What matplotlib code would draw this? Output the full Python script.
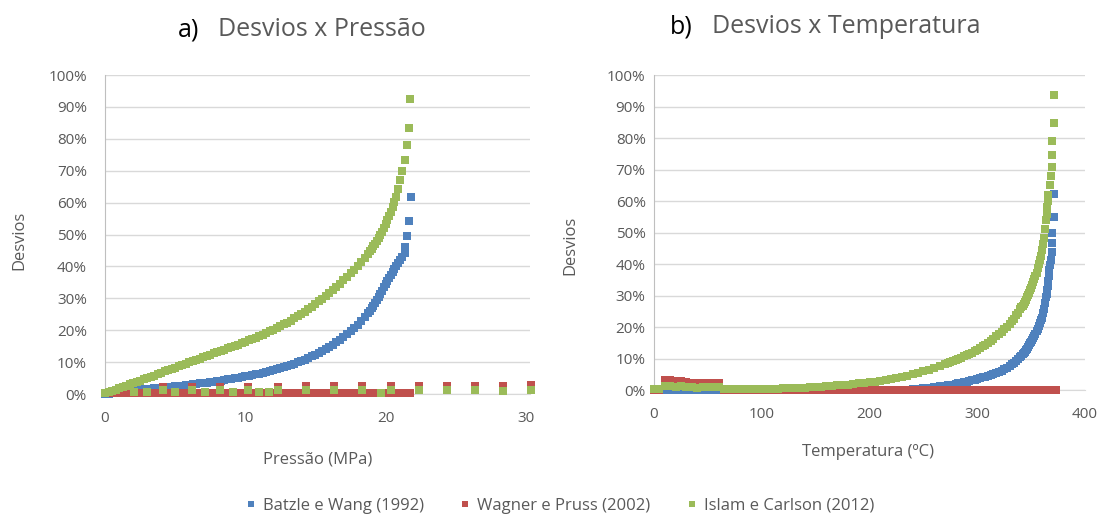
import matplotlib
matplotlib.use("Agg")
import matplotlib.pyplot as plt
from matplotlib.ticker import PercentFormatter, MultipleLocator
from matplotlib.lines import Line2D

plt.rcParams["font.family"] = ["Open Sans", "DejaVu Sans"]

AZUL = "#4F81BD"
VERMELHO = "#C0504D"
VERDE = "#9BBB59"
CINZA = "#595959"
GRADE = "#D9D9D9"

# ---------------- a) desvios x pressão (MPa, %) ----------------
p_base = [0.0, 0.25, 0.5, 0.75, 1.0, 1.25, 1.5, 1.75, 2.0, 2.25, 2.5, 2.75,
          3.0, 3.25, 3.5, 3.75, 4.0, 4.25, 4.5, 4.75, 5.0, 5.25, 5.5, 5.75,
          6.0, 6.25, 6.5, 6.75, 7.0, 7.25, 7.5, 7.75, 8.0, 8.25, 8.5, 8.75,
          9.0, 9.25, 9.5, 9.75, 10.0, 10.25, 10.5, 10.75, 11.0, 11.25, 11.5, 11.75,
          12.0, 12.25, 12.5, 12.75, 13.0, 13.25, 13.5, 13.75, 14.0, 14.25, 14.5, 14.75,
          15.0, 15.25, 15.5, 15.75, 16.0, 16.25, 16.5, 16.75, 17.0, 17.25, 17.5, 17.75,
          18.0, 18.25, 18.5, 18.75]
p_fino = [18.875, 19.0, 19.125, 19.25, 19.375, 19.5, 19.625, 19.75, 19.875,
          20.0, 20.125, 20.25, 20.375, 20.5, 20.625, 20.75, 20.875, 21.0]

bw_p = [0.0, 0.1, 0.2, 0.3, 0.45, 0.55, 0.7, 0.85, 1.0, 1.15, 1.3, 1.45,
        1.55, 1.65, 1.75, 1.85, 1.95, 2.05, 2.15, 2.25, 2.4, 2.5, 2.65, 2.75,
        2.9, 3.0, 3.15, 3.3, 3.45, 3.6, 3.75, 3.9, 4.05, 4.2, 4.4, 4.6,
        4.8, 5.0, 5.15, 5.35, 5.55, 5.75, 5.95, 6.15, 6.35, 6.6, 6.85, 7.1,
        7.4, 7.7, 8.0, 8.35, 8.7, 9.1, 9.5, 9.9, 10.35, 10.8, 11.3, 11.8,
        12.3, 12.9, 13.5, 14.1, 14.8, 15.5, 16.2, 17.0, 17.8, 18.7, 19.6, 20.6,
        21.6, 22.8, 24.0, 25.4]
bw_p_fino = [26.1, 26.9, 27.7, 28.6, 29.5, 30.4, 31.4, 32.4, 33.4,
             34.4, 35.4, 36.4, 37.3, 38.3, 39.2, 40.1, 41.0, 41.9]
bw_p_x2 = [21.2, 21.35, 21.4, 21.5, 21.64, 21.78]
bw_p_y2 = [43.0, 44.2, 46.0, 49.4, 54.2, 61.7]

wp_p_x = p_base + [19.0, 19.25, 19.5, 19.75, 20.0, 20.25, 20.5, 20.75,
                   21.0, 21.25, 21.5, 21.75]
wp_p = [0.3, 0.3, 0.3, 0.3, 0.3, 0.3, 0.3, 0.3, 0.3, 0.3, 0.3, 0.3,
        0.3, 0.3, 0.3, 0.3, 0.3, 0.3, 0.3, 0.3, 0.3, 0.3, 0.3, 0.3,
        0.3, 0.3, 0.3, 0.3, 0.3, 0.3, 0.3, 0.3, 0.3, 0.3, 0.3, 0.3,
        0.3, 0.3, 0.3, 0.3, 0.3, 0.3, 0.3, 0.3, 0.3, 0.3, 0.3, 0.3,
        0.3, 0.3, 0.3, 0.3, 0.3, 0.3, 0.3, 0.3, 0.3, 0.3, 0.3, 0.3,
        0.3, 0.3, 0.3, 0.3, 0.3, 0.3, 0.3, 0.3, 0.3, 0.3, 0.3, 0.3,
        0.3, 0.3, 0.3, 0.3, 0.3, 0.3, 0.3, 0.3, 0.3, 0.3, 0.3, 0.3,
        0.3, 0.3, 0.3, 0.3]
wp_p_x2 = [4.1, 6.2, 8.2, 10.2, 12.3, 14.3, 16.3, 18.3, 20.4, 22.4, 24.4, 26.4, 28.4, 30.4]
wp_p_y2 = [2.3, 2.3, 2.3, 2.3, 2.3, 2.4, 2.4, 2.4, 2.5, 2.6, 2.6, 2.6, 2.6, 2.9]

ic_p = [0.2, 0.6, 1.0, 1.4, 1.8, 2.2, 2.6, 3.0, 3.4, 3.8, 4.2, 4.6,
        5.0, 5.4, 5.8, 6.2, 6.7, 7.1, 7.5, 7.9, 8.3, 8.7, 9.1, 9.5,
        9.9, 10.3, 10.7, 11.1, 11.5, 11.9, 12.3, 12.7, 13.1, 13.5, 13.9, 14.3,
        14.7, 15.1, 15.5, 15.9, 16.3, 16.8, 17.2, 17.7, 18.1, 18.6, 19.1, 19.6,
        20.1, 20.6, 21.2, 21.8, 22.4, 23.0, 23.7, 24.4, 25.1, 25.8, 26.6, 27.4,
        28.2, 29.0, 29.9, 30.8, 31.7, 32.6, 33.6, 34.6, 35.6, 36.7, 37.8, 38.9,
        40.0, 41.3, 42.6, 44.0]
ic_p_fino = [44.7, 45.5, 46.3, 47.1, 48.0, 48.9, 49.9, 50.9, 52.0,
             53.2, 54.5, 55.8, 57.2, 58.7, 60.3, 61.9]
ic_p_x2 = [20.9, 21.0, 21.15, 21.35, 21.5, 21.65, 21.75,
           2.1, 3.0, 4.1, 5.0, 6.2, 7.1, 8.2, 9.1, 10.2, 11.0, 11.7, 12.3,
           14.3, 16.3, 18.3, 19.7, 20.4, 22.4, 24.4, 26.4, 28.4, 30.4]
ic_p_y2 = [64.3, 67.0, 69.8, 73.5, 78.0, 83.5, 92.6,
           0.6, 0.6, 1.3, 0.6, 1.3, 0.5, 1.3, 0.5, 1.3, 0.5, 0.5, 1.3,
           1.3, 1.3, 1.3, 0.4, 1.3, 1.3, 1.3, 1.3, 0.9, 1.3]

# ---------------- b) desvios x temperatura (ºC, %) ----------------
t_base = [0, 5, 10, 15, 20, 25, 30, 35, 40, 45, 50, 55, 60, 65, 70, 75, 80, 85,
          90, 95, 100, 105, 110, 115, 120, 125, 130, 135, 140, 145, 150, 155,
          160, 165, 170, 175, 180, 185, 190, 195, 200, 205, 210, 215, 220, 225,
          230, 235, 240, 245, 250, 255, 260, 265,
          270, 272.5, 275, 277.5, 280, 282.5, 285, 287.5, 290, 292.5, 295, 297.5,
          300, 302.5, 305, 307.5, 310, 312.5, 315, 317.5, 320, 322.5, 325, 327.5,
          330, 332, 334, 336, 338, 340]
t_fino = [341, 342, 343, 344, 345, 346, 347, 348, 349, 350, 351, 352, 353, 354,
          355, 356, 357, 358, 359, 360, 361, 362, 363, 364, 364.5, 365, 365.5,
          366, 366.5, 367, 367.5, 368]

ic_t = [0.3, 0.3, 1.2, 1.2, 1.0, 1.2, 0.9, 1.1, 0.8, 1.1, 0.9, 1.1, 1.0, 0.3,
        0.3, 0.3, 0.3, 0.3, 0.3, 0.3, 0.3, 0.35, 0.4, 0.45, 0.5, 0.55, 0.6,
        0.7, 0.8, 0.9, 1.0, 1.1, 1.2, 1.3, 1.45, 1.6, 1.75, 1.9, 2.1, 2.3,
        2.5, 2.7, 2.95, 3.2, 3.5, 3.8, 4.2, 4.6, 5.0, 5.5, 6.0, 6.5, 7.0, 7.6,
        8.2, 8.5, 8.8, 9.15, 9.5, 9.9, 10.3, 10.7, 11.1, 11.5, 11.9, 12.35,
        12.8, 13.35, 13.9, 14.45, 15.0, 15.6, 16.3, 17.0, 17.7, 18.5, 19.3, 20.1,
        21.0, 21.8, 22.7, 23.7, 24.6, 25.6]
ic_t_fino = [26.2, 26.8, 27.4, 28.0, 28.7, 29.4, 30.1, 30.9, 31.7, 32.5, 33.4,
             34.3, 35.2, 36.2, 37.3, 38.6, 39.9, 41.3, 42.7, 44.3, 46.2, 48.3,
             51.0, 54.0, 56.0, 58.0, 60.0, 62.0]
ic_t_x2 = [367.3, 368.0, 369.4, 369.4, 369.8, 371.0, 371.0]
ic_t_y2 = [65.1, 67.9, 70.7, 74.6, 79.2, 84.9, 93.7]

bw_t = [0.0, 0.0, 0.0, 0.0, 0.0, 0.0, 0.0, 0.0, 0.0, 0.0, 0.0, 0.0, 0.0, 0.0,
        0.0, 0.0, 0.0, 0.0, 0.0, 0.0, 0.0, 0.0, 0.0, 0.0, 0.0, 0.0, 0.0,
        0.0, 0.0, 0.0, 0.0, 0.0, 0.0, 0.0, 0.0, 0.0, 0.0, 0.0, 0.0, 0.0,
        0.0, 0.0, 0.0, 0.0, 0.0, 0.0, 0.0, 0.1, 0.3, 0.45, 0.6, 0.8, 1.0, 1.2,
        1.4, 1.5, 1.65, 1.75, 1.9, 2.1, 2.3, 2.5, 2.7, 2.9, 3.1, 3.3,
        3.5, 3.75, 4.0, 4.25, 4.5, 4.75, 5.0, 5.35, 5.7, 6.15, 6.6, 7.1,
        7.7, 8.2, 8.7, 9.3, 9.9, 10.6]
bw_t_fino = [10.95, 11.3, 11.7, 12.1, 12.6, 13.1, 13.6, 14.2, 14.8, 15.4, 16.0,
             16.6, 17.2, 17.9, 18.7, 19.5, 20.3, 21.2, 22.1, 23.0, 24.3, 25.8,
             27.6, 29.5, 30.5, 31.6, 33.0, 34.5, 36.2, 38.0, 39.6, 41.3]
bw_t_x2 = [369.4, 369.8, 369.8, 371.3, 371.3]
bw_t_y2 = [43.7, 46.6, 49.9, 55.0, 62.1]

wp_t_x = [0, 5, 10, 15, 20, 25, 30, 35, 40, 45, 50, 55, 60, 65, 70, 75, 80, 85,
          90, 95, 100, 105, 110, 115, 120, 125, 130, 135, 140, 145, 150, 155,
          160, 165, 170, 175, 180, 185, 190, 195, 200, 205, 210, 215, 220, 225,
          230, 235, 240, 245, 250, 255, 260, 265, 270, 275, 280, 285, 290, 295,
          300, 305, 310, 315, 320, 325, 330, 335, 340, 345, 350, 355, 360, 365,
          370, 373]
wp_t = [0.1, 0.1, 3.2, 3.2, 3.0, 2.8, 2.6, 2.3, 2.3, 2.2, 2.3, 2.2, 2.3, 0.1,
        0.1, 0.1, 0.1, 0.1, 0.1, 0.1, 0.1, 0.1, 0.1, 0.1, 0.1, 0.1, 0.1,
        0.1, 0.1, 0.1, 0.1, 0.1, 0.1, 0.1, 0.1, 0.1, 0.1, 0.1, 0.1, 0.1,
        0.1, 0.1, 0.1, 0.1, 0.1, 0.1, 0.1, 0.1, 0.1, 0.1, 0.1, 0.1, 0.1,
        0.1, 0.1, 0.1, 0.1, 0.1, 0.1, 0.1, 0.1, 0.1, 0.1, 0.1, 0.1, 0.1,
        0.1, 0.1, 0.1, 0.1, 0.1, 0.1, 0.1, 0.1, 0.1, 0.1]

SERIES = ["Batzle e Wang (1992)", "Wagner e Pruss (2002)", "Islam e Carlson (2012)"]
MS = 5.5


def pontos(ax, x, y, cor):
    ax.plot(x, y, "s", ms=MS, mew=0, color=cor, clip_on=False, zorder=3)


def formatar(ax, xmax, xstep, ypad, xpad):
    ax.set_xlim(0, xmax)
    ax.set_ylim(0, 100)
    ax.xaxis.set_major_locator(MultipleLocator(xstep))
    ax.yaxis.set_major_locator(MultipleLocator(10))
    ax.yaxis.set_major_formatter(PercentFormatter(100, decimals=0))
    ax.grid(axis="y", color=GRADE, lw=1)
    ax.set_axisbelow(True)
    for s in ["top", "right"]:
        ax.spines[s].set_visible(False)
    ax.spines["left"].set_color("#BFBFBF")
    ax.spines["bottom"].set_color(GRADE)
    ax.tick_params(length=0, colors=CINZA, labelsize=11)
    ax.tick_params(axis="y", pad=ypad)
    ax.tick_params(axis="x", pad=xpad)


fig = plt.figure(figsize=(11.02, 5.17), dpi=100)
ax1 = fig.add_axes([0.0953, 0.2379, 0.3857, 0.617])
ax2 = fig.add_axes([0.5935, 0.2456, 0.3911, 0.6093])

pontos(ax1, p_base + p_fino, bw_p + bw_p_fino, AZUL)
pontos(ax1, bw_p_x2, bw_p_y2, AZUL)
pontos(ax1, wp_p_x, wp_p, VERMELHO)
pontos(ax1, wp_p_x2, wp_p_y2, VERMELHO)
pontos(ax1, p_base + p_fino[:len(ic_p_fino)], ic_p + ic_p_fino, VERDE)
pontos(ax1, ic_p_x2, ic_p_y2, VERDE)
formatar(ax1, 30.3, 10, 13, 12)

pontos(ax2, t_base + t_fino, bw_t + bw_t_fino, AZUL)
pontos(ax2, bw_t_x2, bw_t_y2, AZUL)
pontos(ax2, wp_t_x, wp_t, VERMELHO)
pontos(ax2, t_base + t_fino[:len(ic_t_fino)], ic_t + ic_t_fino, VERDE)
pontos(ax2, ic_t_x2, ic_t_y2, VERDE)
formatar(ax2, 400, 100, 6, 12)

# títulos
fig.text(178 / 1102, 1 - 30 / 517, "a)", fontsize=18, color="black", va="center")
fig.text(218 / 1102, 1 - 30 / 517, "Desvios x Pressão", fontsize=18, color=CINZA, va="center")
fig.text(670 / 1102, 1 - 27 / 517, "b)", fontsize=18, color="black", va="center")
fig.text(712 / 1102, 1 - 27 / 517, "Desvios x Temperatura", fontsize=18, color=CINZA, va="center")

# rótulos dos eixos
fig.text(318 / 1102, 1 - 460 / 517, "Pressão (MPa)", fontsize=12, color=CINZA, ha="center", va="center")
fig.text(868 / 1102, 1 - 452 / 517, "Temperatura (ºC)", fontsize=12, color=CINZA, ha="center", va="center")
fig.text(19 / 1102, 1 - 240 / 517, "Desvios", fontsize=12, color=CINZA, ha="center", va="center", rotation=90)
fig.text(570 / 1102, 1 - 245 / 517, "Desvios", fontsize=12, color=CINZA, ha="center", va="center", rotation=90)

handles = [Line2D([], [], ls="", marker="s", ms=4, mew=0, color=c) for c in (AZUL, VERMELHO, VERDE)]
fig.legend(handles, SERIES, loc="center", bbox_to_anchor=(560 / 1102, 1 - 506 / 517), ncol=3,
           frameon=False, fontsize=12, labelcolor=CINZA, handlelength=0.6, handletextpad=0.4,
           columnspacing=2.2)

fig.savefig("out.png", dpi=100)
